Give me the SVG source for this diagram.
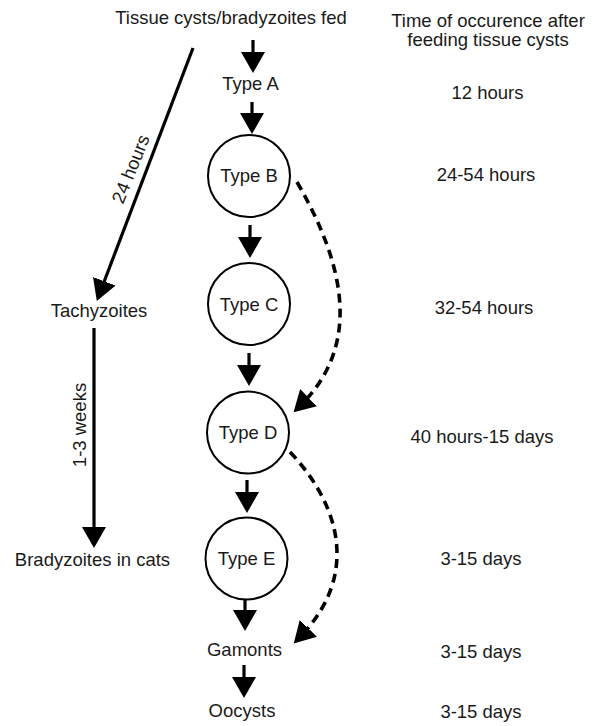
<svg xmlns="http://www.w3.org/2000/svg" width="592" height="726" viewBox="0 0 592 726">
<defs>
<style>
text{font-family:"Liberation Sans",Arial,Helvetica,sans-serif;font-size:18.5px;fill:#1a1a1a;text-anchor:middle}
.sh{stroke:#000;stroke-width:3.2;fill:none}
.ds{stroke:#000;stroke-width:3.6;fill:none;stroke-dasharray:9 6}
circle{fill:#fff;stroke:#000;stroke-width:2}
</style>
<marker id="ah" viewBox="0 0 21 24" refX="12" refY="12" markerWidth="21" markerHeight="24" markerUnits="userSpaceOnUse" orient="auto">
<path d="M0,0 L21,12 L0,24 Z" fill="#000"/>
</marker>
</defs>
<rect width="592" height="726" fill="#fff"/>
<g id="connectors">
<line class="sh" x1="253" y1="40" x2="253" y2="64" marker-end="url(#ah)"/>
<line class="sh" x1="252" y1="102" x2="252" y2="125" marker-end="url(#ah)"/>
<line class="sh" x1="250" y1="225" x2="250" y2="249" marker-end="url(#ah)"/>
<line class="sh" x1="249" y1="353" x2="249" y2="377" marker-end="url(#ah)"/>
<line class="sh" x1="247" y1="480" x2="247" y2="504" marker-end="url(#ah)"/>
<line class="sh" x1="245" y1="600" x2="245" y2="622" marker-end="url(#ah)"/>
<line class="sh" x1="244" y1="665" x2="244" y2="689" marker-end="url(#ah)"/>
<line class="sh" x1="193" y1="48" x2="100" y2="292.5" marker-end="url(#ah)"/>
<line class="sh" x1="94" y1="328" x2="94" y2="539" marker-end="url(#ah)"/>
<path class="ds" d="M297,182 C345,265 362,345 300,406" marker-end="url(#ah)"/>
<path class="ds" d="M290,452 C340,505 360,575 300,637" marker-end="url(#ah)"/>
</g>
<g id="title"><text x="231" y="24">Tissue cysts/bradyzoites fed</text></g>
<g id="header"><text x="488" y="27">Time of occurence after</text><text x="488" y="46">feeding tissue cysts</text></g>
<g id="typeA"><text x="250.5" y="90">Type A</text></g>
<g id="typeB"><circle cx="249" cy="176" r="41"/><text x="249" y="182">Type B</text></g>
<g id="typeC"><circle cx="249" cy="304" r="41"/><text x="249" y="311">Type C</text></g>
<g id="typeD"><circle cx="248" cy="432.5" r="41"/><text x="248" y="439">Type D</text></g>
<g id="typeE"><circle cx="246.5" cy="558.5" r="41"/><text x="246.5" y="565">Type E</text></g>
<g id="gamonts"><text x="244.5" y="656">Gamonts</text></g>
<g id="oocysts"><text x="242" y="717">Oocysts</text></g>
<g id="tachyzoites"><text x="99" y="317">Tachyzoites</text></g>
<g id="bradyzoites"><text x="92.5" y="566">Bradyzoites in cats</text></g>
<g id="labels">
<text transform="translate(131,169) rotate(-68)" y="6">24 hours</text>
<text transform="translate(80,425) rotate(-90)" y="6">1-3 weeks</text>
</g>
<g id="times">
<text x="487.5" y="99">12 hours</text>
<text x="486" y="181">24-54 hours</text>
<text x="484" y="314">32-54 hours</text>
<text x="482" y="443">40 hours-15 days</text>
<text x="481" y="565">3-15 days</text>
<text x="481" y="658">3-15 days</text>
<text x="481" y="718">3-15 days</text>
</g>
</svg>
